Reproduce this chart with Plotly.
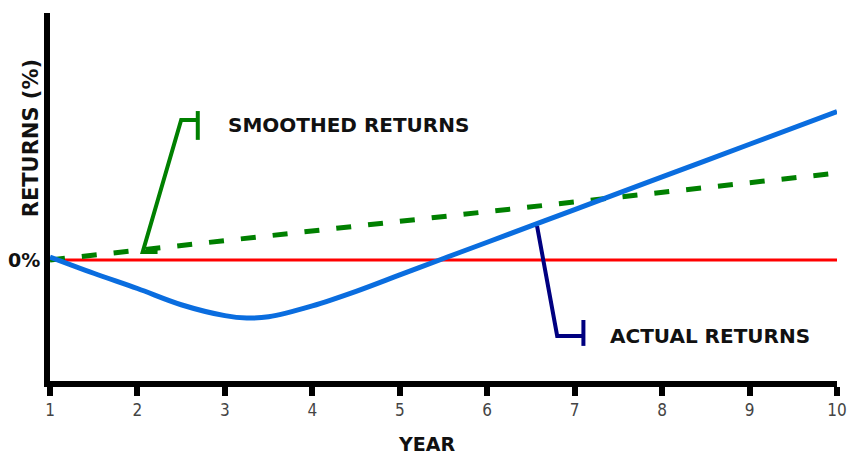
import plotly.graph_objects as go

# ---- data ----
years_actual = [1, 1.5, 2, 2.5, 3, 3.25, 3.5, 4, 4.5, 5, 5.5, 6, 7, 8, 9, 10]
actual_returns = [0.12, -0.55, -1.18, -1.85, -2.3, -2.4, -2.35, -1.9, -1.3, -0.62,
                  0.06, 0.73, 2.08, 3.43, 4.78, 6.13]
years_smoothed = [1, 10]
smoothed_returns = [0.0, 3.59]
years_zero = [1, 10]
zero_line = [0, 0]
tick_years = [1, 2, 3, 4, 5, 6, 7, 8, 9, 10]
tick_labels = ["1", "2", "3", "4", "5", "6", "7", "8", "9", "10"]

BOLD = "DejaVu Sans"

fig = go.Figure()
fig.add_trace(go.Scatter(x=years_zero, y=zero_line, mode="lines",
                         line=dict(color="#ff0000", width=3), hoverinfo="skip"))
fig.add_trace(go.Scatter(x=years_smoothed, y=smoothed_returns, mode="lines",
                         line=dict(color="#008000", width=5, dash="15px,17px"), hoverinfo="skip"))
fig.add_trace(go.Scatter(x=years_actual, y=actual_returns, mode="lines",
                         line=dict(color="#0a6ddf", width=5, shape="spline", smoothing=1),
                         hoverinfo="skip"))

# leader lines (annotation decorations)
green_leader = "M 2.23 0.33 L 2.06 0.33 L 2.50 5.78 L 2.69 5.78"
fig.add_shape(type="path", path=green_leader, xref="x", yref="y",
              line=dict(color="#008000", width=4))
fig.add_shape(type="line", x0=2.69, x1=2.69, y0=6.15, y1=4.96, xref="x", yref="y",
              line=dict(color="#008000", width=4))
navy_leader = "M 6.57 1.40 L 6.80 -3.14 L 7.10 -3.14"
fig.add_shape(type="path", path=navy_leader, xref="x", yref="y",
              line=dict(color="#000080", width=4))
fig.add_shape(type="line", x0=7.10, x1=7.10, y0=-2.48, y1=-3.55, xref="x", yref="y",
              line=dict(color="#000080", width=4))

fig.add_annotation(x=3.01, y=5.58, xref="x", yref="y", text="SMOOTHED RETURNS",
                   showarrow=False, xanchor="left", yanchor="middle",
                   font=dict(family=BOLD, size=20, color="#111", weight="bold"))
fig.add_annotation(x=7.38, y=-3.14, xref="x", yref="y", text="ACTUAL RETURNS",
                   showarrow=False, xanchor="left", yanchor="middle",
                   font=dict(family=BOLD, size=20, color="#111", weight="bold"))
fig.add_annotation(x=0.479, y=-0.171, xref="paper", yref="paper", text="YEAR",
                   showarrow=False, xanchor="center", yanchor="middle",
                   font=dict(family=BOLD, size=19, color="#111", weight="bold"))
fig.add_annotation(x=-0.024, y=0.66, xref="paper", yref="paper", text="RETURNS (%)",
                   showarrow=False, xanchor="center", yanchor="middle", textangle=-90,
                   font=dict(family=BOLD, size=21, color="#111", weight="bold"))

fig.update_xaxes(range=[1, 10], tickvals=tick_years, ticktext=tick_labels,
                 showgrid=False, zeroline=False, showline=True, linewidth=6,
                 linecolor="black", ticks="outside", ticklen=9, tickwidth=6,
                 tickcolor="black", ticklabeloverflow="allow", automargin=False,
                 tickfont=dict(family="DejaVu Sans Condensed, Liberation Sans Narrow, Arial Narrow",
                               size=17, color="#444"))
fig.update_yaxes(range=[-5, 10.2], tickvals=[0], ticktext=["0%"], automargin=False,
                 showgrid=False, zeroline=False, showline=True, linewidth=6,
                 linecolor="black", ticks="",
                 tickfont=dict(family=BOLD, size=19, color="#111", weight="bold"))

fig.update_layout(width=848, height=455, showlegend=False,
                  plot_bgcolor="white", paper_bgcolor="white",
                  margin=dict(l=50, r=11, t=13, b=74, autoexpand=False))

fig.write_html("out.html", config={"displayModeBar": False},
               post_script="document.body.style.margin='0';document.body.style.overflow='hidden';")
